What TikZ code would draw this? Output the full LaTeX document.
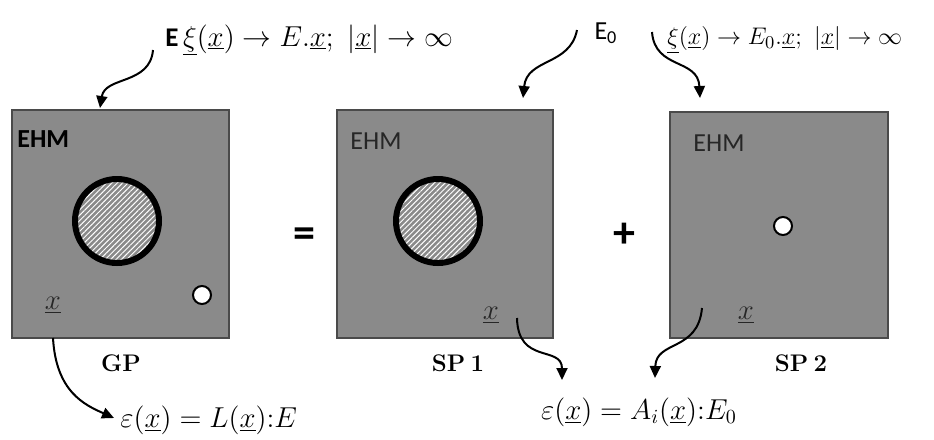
\documentclass[tikz,border=0pt]{standalone}
\usepackage{fontspec}
\newfontfamily\carlito{Carlito}
\usetikzlibrary{arrows.meta,patterns.meta}
\definecolor{boxgray}{HTML}{8A8A8A}
\definecolor{edgegray}{HTML}{4A4A4A}
\definecolor{txtgray}{HTML}{262626}
\begin{document}
\begin{tikzpicture}[x=0.5pt,y=-0.5pt,
 panel/.style={draw=edgegray,line width=1pt,fill=boxgray,inner sep=0pt},
 incl/.style={circle,inner sep=0pt,draw=black,line width=3pt,minimum size=42pt,
   pattern={Lines[angle=45,distance=1.9pt,line width=0.5pt]},pattern color=white},
 pore/.style={circle,inner sep=0pt,draw=black,line width=1pt,fill=white,minimum size=9pt},
 conn/.style={-{Triangle[length=6pt,width=5.5pt]},line width=1pt,black},
 formula/.style={inner sep=0pt,font=\fontsize{13.5}{16}\selectfont},
 ehm/.style={font=\carlito\fontsize{13}{15}\selectfont,anchor=west,inner sep=0pt,text=txtgray},
 xlab/.style={inner sep=0pt,font=\fontsize{15}{17}\selectfont,text=txtgray},
 plab/.style={inner sep=0pt,font=\bfseries\fontsize{12}{14}\selectfont},
 op/.style={inner sep=0pt,font=\carlito\bfseries\fontsize{22}{24}\selectfont}]
\useasboundingbox (0,0) rectangle (934,440);

% panels
\node[panel,minimum width=108.5pt,minimum height=114pt] (gp) at (120.5,224) {};
\node[panel,minimum width=108pt,minimum height=114pt] (sp1) at (445,224) {};
\node[panel,minimum width=109pt,minimum height=113pt] (sp2) at (779,225) {};

% contents
\node[incl] (incgp) at (117,221) {};
\node[incl] (incsp) at (438,221) {};
\node[pore] (poregp) at (202,295) {};
\node[pore] (poresp) at (783,226) {};

\node[ehm,text=black,font=\carlito\bfseries\fontsize{13}{15}\selectfont] (ehm1) at (17,139) {EHM};
\node[ehm] (ehm2) at (350,141) {EHM};
\node[ehm] (ehm3) at (693,143) {EHM};

\node[xlab] (x1) at (53,305) {$\underline{x}$};
\node[xlab] (x2) at (491,315) {$\underline{x}$};
\node[xlab] (x3) at (746,315) {$\underline{x}$};

\node[plab] (lgp) at (121,363) {GP};
\node[plab] (lsp1) at (458,363) {SP\hspace{0.22em}1};
\node[plab] (lsp2) at (801,363) {SP\hspace{0.22em}2};

\node[op] (eq) at (304,238) {=};
\node[op] (plus) at (624,235) {+};

% formulas
\node[formula,anchor=west] (ftl) at (165,40)
  {{\carlito\bfseries E}\,$\underline{\xi}\bigl(\underline{x}\bigr) \rightarrow E.\underline{x};\ \bigl|\underline{x}\bigr| \rightarrow \infty$};
\node[formula,font=\carlito\fontsize{13}{15}\selectfont] (e0) at (606,33) {E\textsubscript{0}};
\node[formula,anchor=west,font=\fontsize{12.8}{15}\selectfont] (ftr) at (667,40)
  {$\underline{\xi}\bigl(\underline{x}\bigr) \rightarrow E_0.\underline{x};\ \bigl|\underline{x}\bigr| \rightarrow \infty$};
\node[formula,anchor=west,font=\fontsize{14}{16}\selectfont] (fbl) at (120,420)
  {$\varepsilon\bigl(\underline{x}\bigr) = L\bigl(\underline{x}\bigr){:}E$};
\node[formula,font=\fontsize{14}{16}\selectfont] (fbr) at (639,412)
  {$\varepsilon\bigl(\underline{x}\bigr) = A_i\bigl(\underline{x}\bigr){:}E_0$};

% connector ends
\coordinate (a1) at (153,50);
\coordinate (b1) at (100,108);
\coordinate (a2) at (577,30);
\coordinate (b2) at (523,98);
\coordinate (a3) at (652,32);
\coordinate (b3) at (700,98);
\coordinate (a4) at (53,338);
\coordinate (b4) at (114,418);
\coordinate (a5) at (517,318);
\coordinate (b5) at (562,380);
\coordinate (a6) at (702,308);
\coordinate (b6) at (655,378);

\draw[conn] (a1) .. controls (150,85) and (105,76) .. (b1);
\draw[conn] (a2) .. controls (570,66) and (527,58) .. (b2);
\draw[conn] (a3) .. controls (655,70) and (698,58) .. (b3);
\draw[conn] (a4) .. controls (56,392) and (85,405) .. (b4);
\draw[conn] (a5) .. controls (518,365) and (562,345) .. (b5);
\draw[conn] (a6) .. controls (698,352) and (656,340) .. (b6);
\end{tikzpicture}
\end{document}
